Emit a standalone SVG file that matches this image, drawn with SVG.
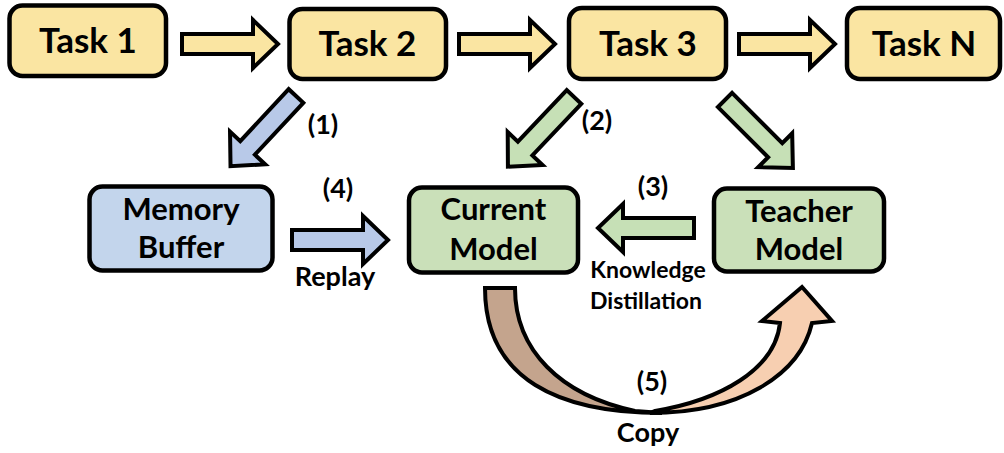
<svg xmlns="http://www.w3.org/2000/svg" width="1004" height="453" viewBox="0 0 1004 453">
<style>
.box{stroke:#000;stroke-width:4.5}
.task{fill:#fae5a2}
.mem{fill:#c3d5ec}
.grn{fill:#cae0b9}
.arr{stroke:#000;stroke-width:4;stroke-linejoin:miter}
.ay{fill:#fae5a2}
.ab{fill:#b8c9e8}
.ag{fill:#c6e0b6}
text{font-family:Lato,"Liberation Sans",sans-serif;font-weight:700;fill:#000;text-anchor:middle}
.t1{font-size:35px}
.t2{font-size:31px}
.t3{font-size:27px}
.t4{font-size:23px}
</style>
<defs>
<polygon id="arrow" points="0,-10 71,-10 71,-24 96,0 71,24 71,10 0,10"/>
</defs>
<rect width="1004" height="453" fill="#fff"/>
<g id="connectors">
<use href="#arrow" class="arr ay" transform="translate(182,44)"/>
<use href="#arrow" class="arr ay" transform="translate(459,44)"/>
<use href="#arrow" class="arr ay" transform="translate(739,44)"/>
<use href="#arrow" class="arr ab" transform="translate(296,96) rotate(133)"/>
<use href="#arrow" class="arr ag" transform="translate(574,97) rotate(133.5)"/>
<use href="#arrow" class="arr ag" transform="translate(725,100) rotate(45)"/>
<use href="#arrow" class="arr ab" transform="translate(292,240)"/>
<use href="#arrow" class="arr ag" transform="translate(694,228) rotate(180)"/>
<path class="arr" fill="#c4a48d" d="M485,288 C485,380 560,413 662,413 L635,411 C560,395 515,350 515,288 Z"/>
<path class="arr" fill="#f7cfb1" d="M650,413 C740,413 800,375 812,323 L832,321 L802,287 L762,321 L780,323 C775,370 720,400 655,411 Z"/>
<text class="t3" x="323" y="134">(1)</text>
<text class="t3" x="597" y="130">(2)</text>
<text class="t3" x="653" y="196">(3)</text>
<text class="t3" x="338" y="198">(4)</text>
<text class="t3" x="335" y="286">Replay</text>
<text class="t4" x="648" y="278">Knowledge</text>
<text class="t4" x="646" y="309">Distillation</text>
<text class="t3" x="652" y="391">(5)</text>
<text class="t3" x="648" y="442">Copy</text>
</g>
<g id="task1"><rect class="box task" x="9.5" y="5.5" width="156.5" height="70.5" rx="13"/><text class="t1" x="88" y="53">Task 1</text></g>
<g id="task2"><rect class="box task" x="289.5" y="9" width="156.5" height="70" rx="13"/><text class="t1" x="367.5" y="56">Task 2</text></g>
<g id="task3"><rect class="box task" x="569" y="8" width="157" height="71" rx="13"/><text class="t1" x="648" y="56">Task 3</text></g>
<g id="taskN"><rect class="box task" x="847" y="8" width="153" height="71" rx="13"/><text class="t1" x="924" y="56">Task N</text></g>
<g id="memory"><rect class="box mem" x="89.5" y="186.5" width="183" height="84" rx="13"/><text class="t2" x="181" y="220">Memory</text><text class="t2" x="181" y="258">Buffer</text></g>
<g id="current"><rect class="box grn" x="409" y="187.5" width="169" height="85" rx="13"/><text class="t2" x="493.5" y="220">Current</text><text class="t2" x="493.5" y="260">Model</text></g>
<g id="teacher"><rect class="box grn" x="714" y="188.5" width="170" height="83" rx="13"/><text class="t2" x="799" y="222">Teacher</text><text class="t2" x="799" y="260">Model</text></g>
</svg>
